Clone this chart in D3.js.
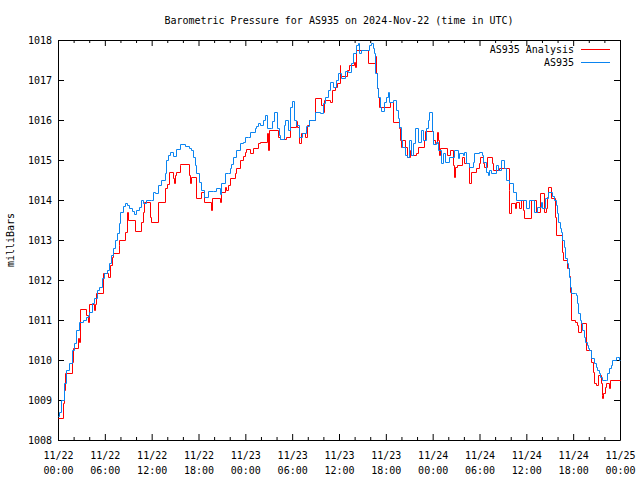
<!DOCTYPE html>
<html>
<head>
<meta charset="utf-8">
<script src="https://cdn.jsdelivr.net/npm/d3@7"></script>
<style>
  html, body { margin: 0; padding: 0; background: #fff; }
  svg { display: block; }
  text { font-family: "DejaVu Sans Mono", monospace; font-size: 10px; fill: #000; }
</style>
</head>
<body>
<svg id="chart" width="640" height="480"></svg>
<script>
// ---- Data (hours after 2024-11-22 00:00 UTC, millibars) ----
const titleText = "Barometric Pressure for AS935 on 2024-Nov-22 (time in UTC)";
const yLabel = "milliBars";
const seriesNames = ["AS935 Analysis", "AS935"];
const yTicks = [1008, 1009, 1010, 1011, 1012, 1013, 1014, 1015, 1016, 1017, 1018];
const xMajorHours = [0, 6, 12, 18, 24, 30, 36, 42, 48, 54, 60, 66, 72];
const xMinorHours = [2, 4, 8, 10, 14, 16, 20, 22, 26, 28, 32, 34, 38, 40, 44, 46, 50, 52, 56, 58, 62, 64, 68, 70];

const analysisSeries = [
  [0,1008.54],[0.68,1008.92],[0.81,1009.25],[0.94,1009.67],[1.75,1009.96],[1.88,1010.29],
  [2.52,1010.54],[2.65,1010.46],[2.86,1011.27],[3.58,1011.12],[3.85,1010.96],[3.92,1011.12],
  [4.00,1011.4],[4.64,1011.25],[4.77,1011.4],[4.86,1011.67],[5.79,1012.17],[6.36,1012.08],
  [6.69,1012.37],[6.91,1012.58],[7.07,1012.68],[7.76,1012.87],[7.84,1013.0],[8.61,1013.2],
  [8.82,1013.7],[8.91,1013.5],[9.89,1013.22],[10.62,1013.45],[10.83,1013.71],[11.04,1013.95],
  [11.77,1013.58],[11.93,1013.46],[12.75,1013.96],[13.68,1014.3],[13.98,1014.4],[14.24,1014.71],
  [14.75,1014.55],[14.88,1014.42],[14.96,1014.62],[15.18,1014.71],[15.60,1014.87],[15.69,1014.9],
  [16.79,1014.63],[16.97,1014.42],[17.10,1014.58],[17.65,1014.04],[18.38,1014.21],[18.71,1013.96],
  [19.66,1013.75],[19.78,1014.06],[20.72,1013.96],[20.94,1014.2],[21.36,1014.33],[21.57,1014.25],
  [21.78,1014.37],[22.09,1014.54],[22.64,1014.67],[22.76,1014.8],[23.28,1015.0],[23.70,1015.1],
  [23.92,1015.2],[24.13,1015.27],[24.56,1015.17],[24.98,1015.3],[25.62,1015.42],[25.83,1015.46],
  [26.77,1015.67],[26.90,1015.25],[27.02,1015.75],[28.18,1015.58],[28.39,1015.52],[29.25,1015.58],
  [29.76,1015.82],[30.44,1015.97],[30.61,1015.82],[30.86,1015.42],[31.17,1015.68],[31.59,1015.58],
  [31.93,1015.87],[32.10,1016.0],[32.87,1016.54],[33.64,1016.37],[33.93,1016.21],[34.06,1016.5],
  [34.91,1016.46],[35.13,1016.75],[35.43,1016.83],[35.72,1016.92],[36.07,1017.37],[36.19,1017.1],
  [37.00,1017.25],[37.34,1017.37],[37.89,1017.46],[38.07,1017.33],[38.20,1017.75],[39.68,1017.42],
  [40.63,1017.6],[40.76,1017.17],[40.84,1016.8],[40.97,1016.58],[41.09,1016.33],[42.55,1016.45],
  [42.88,1015.96],[43.65,1015.8],[43.83,1015.5],[43.96,1015.33],[44.08,1015.5],[44.51,1015.33],
  [44.68,1015.08],[45.11,1015.25],[45.24,1015.12],[45.87,1015.17],[46.08,1015.33],[46.94,1015.5],
  [47.06,1015.73],[48.09,1015.5],[48.34,1015.42],[48.51,1015.7],[48.64,1015.5],[48.77,1015.12],
  [48.94,1015.29],[49.79,1015.12],[50.22,1015.25],[50.65,1014.87],[50.77,1014.58],[50.90,1014.83],
  [51.07,1014.87],[51.76,1015.08],[52.05,1014.92],[52.69,1014.42],[52.91,1014.71],[53.55,1014.79],
  [53.88,1014.92],[54.06,1015.08],[54.39,1014.92],[54.61,1014.83],[54.96,1015.08],[55.60,1014.92],
  [55.67,1014.75],[56.53,1014.79],[57.72,1014.25],[57.81,1013.67],[58.02,1013.92],[58.57,1013.79],
  [58.67,1013.96],[59.09,1013.79],[59.30,1014.0],[59.51,1013.75],[59.64,1013.54],[60.58,1014.0],
  [61.22,1013.71],[61.73,1014.17],[62.28,1013.71],[62.50,1013.79],[62.67,1014.08],[62.79,1014.33],
  [63.22,1014.04],[63.69,1013.58],[63.78,1013.12],[64.55,1012.71],[64.71,1012.5],[65.19,1012.29],
  [65.48,1012.1],[65.57,1011.71],[65.70,1011.0],[66.25,1010.96],[66.54,1010.87],[66.67,1010.71],
  [66.98,1010.92],[67.62,1010.25],[68.26,1009.96],[68.59,1009.71],[68.68,1009.42],[68.90,1009.37],
  [69.23,1009.63],[69.53,1009.42],[69.66,1009.12],[69.74,1009.04],[69.87,1009.17],[70.04,1009.33],
  [70.17,1009.42],[70.60,1009.3],[70.72,1009.5],[72,1009.5]
];

const stationSeries = [
  [0,1008.6],[0.09,1008.71],[0.38,1009.0],[0.81,1009.42],[1.02,1009.75],[1.45,1009.92],
  [1.75,1010.25],[2.08,1010.42],[2.30,1010.75],[2.65,1010.95],[3.16,1011.0],[3.58,1011.08],
  [3.88,1011.1],[4.00,1011.2],[4.35,1011.42],[4.64,1011.55],[4.95,1011.75],[5.28,1011.83],
  [5.63,1012.04],[5.92,1012.17],[6.23,1012.25],[6.48,1012.42],[6.78,1012.62],[7.07,1012.8],
  [7.33,1013.0],[7.55,1013.17],[7.76,1013.42],[7.97,1013.71],[8.27,1013.85],[8.57,1013.92],
  [8.82,1013.87],[9.12,1013.79],[9.46,1013.73],[9.68,1013.65],[9.98,1013.75],[10.32,1013.83],
  [10.62,1014.0],[10.91,1013.93],[11.25,1014.0],[11.89,1014.0],[12.11,1014.21],[12.41,1014.17],
  [12.75,1014.37],[13.17,1014.5],[13.68,1014.67],[13.90,1015.0],[14.11,1015.12],[14.32,1015.21],
  [14.75,1015.1],[15.18,1015.27],[15.69,1015.4],[16.24,1015.35],[16.79,1015.3],[17.10,1015.25],
  [17.30,1015.08],[17.52,1014.87],[17.65,1014.67],[18.07,1014.46],[18.38,1014.25],[18.71,1014.08],
  [19.22,1014.22],[19.86,1014.23],[20.21,1014.3],[20.72,1014.15],[20.94,1014.42],[21.36,1014.67],
  [21.78,1014.67],[22.00,1014.79],[22.21,1014.9],[22.42,1015.08],[22.85,1015.25],[23.28,1015.42],
  [23.70,1015.46],[23.92,1015.57],[24.34,1015.58],[24.56,1015.71],[25.19,1015.8],[25.41,1015.85],
  [25.62,1015.92],[25.83,1015.87],[26.26,1016.0],[26.47,1016.12],[26.77,1015.8],[27.24,1015.79],
  [27.46,1015.98],[27.62,1016.21],[28.05,1015.8],[28.30,1015.62],[28.48,1015.52],[28.90,1015.87],
  [29.07,1016.0],[29.45,1015.75],[29.76,1016.33],[29.93,1016.48],[30.22,1016.0],[30.53,1015.87],
  [30.86,1015.58],[31.24,1015.67],[31.72,1015.85],[32.14,1016.0],[32.87,1016.21],[33.51,1016.17],
  [33.93,1016.42],[34.15,1016.57],[34.57,1016.75],[34.79,1016.96],[35.21,1016.83],[35.64,1017.0],
  [35.85,1017.17],[36.28,1017.04],[36.71,1017.23],[37.13,1017.21],[37.56,1017.42],[37.77,1017.67],
  [38.20,1017.87],[38.41,1017.92],[38.53,1017.67],[38.84,1017.75],[39.48,1017.75],[39.90,1017.87],
  [40.12,1017.92],[40.33,1017.8],[40.54,1017.67],[40.67,1017.17],[40.84,1016.8],[40.97,1016.58],
  [41.27,1016.33],[41.40,1016.23],[41.82,1016.45],[42.04,1016.58],[42.25,1016.71],[42.37,1016.46],
  [42.88,1016.5],[43.32,1016.25],[43.53,1016.04],[43.65,1015.83],[43.96,1015.5],[44.08,1015.33],
  [44.51,1015.12],[44.68,1015.08],[44.93,1015.5],[45.24,1015.12],[45.44,1015.42],[45.75,1015.8],
  [46.17,1015.46],[46.51,1015.75],[46.72,1015.5],[47.15,1015.8],[47.36,1016.0],[47.58,1016.21],
  [47.87,1015.73],[48.00,1015.4],[48.43,1015.46],[48.64,1015.25],[49.07,1014.92],[49.28,1015.17],
  [49.62,1014.96],[50.04,1015.08],[50.77,1015.25],[51.20,1015.04],[51.41,1015.17],[51.84,1015.13],
  [52.05,1015.21],[52.27,1014.92],[52.69,1014.83],[53.11,1014.96],[53.33,1015.17],[53.97,1015.21],
  [54.32,1015.13],[54.48,1014.96],[54.83,1014.71],[55.03,1014.62],[55.25,1014.75],[55.47,1014.67],
  [56.10,1014.87],[56.31,1014.75],[56.75,1015.0],[57.17,1014.79],[57.38,1014.5],[57.81,1014.42],
  [58.23,1014.21],[58.67,1014.0],[59.51,1014.0],[59.94,1013.79],[60.37,1014.0],[61.00,1013.71],
  [61.43,1013.83],[61.86,1013.95],[62.07,1013.8],[62.33,1014.04],[62.83,1014.21],[63.34,1014.1],
  [63.56,1014.0],[63.78,1013.87],[63.91,1013.67],[64.07,1013.46],[64.29,1013.29],[64.46,1013.2],
  [64.62,1013.0],[64.84,1012.83],[64.97,1012.54],[65.19,1012.42],[65.39,1012.29],[65.48,1012.08],
  [65.57,1011.83],[65.70,1011.68],[66.25,1011.68],[66.34,1011.63],[66.46,1011.42],[66.63,1011.17],
  [66.85,1011.0],[67.06,1010.92],[67.19,1010.75],[67.40,1010.58],[67.53,1010.46],[67.74,1010.37],
  [67.91,1010.29],[68.04,1010.25],[68.26,1010.04],[68.68,1009.92],[68.90,1009.83],[69.10,1009.75],
  [69.32,1009.67],[69.45,1009.58],[69.66,1009.5],[70.17,1009.5],[70.38,1009.67],[70.60,1009.79],
  [70.81,1009.87],[71.02,1010.0],[71.45,1010.08],[71.66,1010.08],[71.87,1010.0],[72,1010.0]
];

// ---- Rendering ----
(function () {
  const seriesColors = ["#ff0000", "#0a84f0"];
  const start = Date.UTC(2024, 10, 22, 0, 0);
  const toDate = h => new Date(start + h * 3600e3);

  const pL = 58, pR = 620, pT = 40, pB = 440;
  const svg = d3.select("#chart");

  const x = d3.scaleUtc().domain([toDate(0), toDate(72)]).range([pL, pR]);
  const y = d3.scaleLinear().domain([1008, 1018]).range([pB, pT]);

  const fmtDay = d3.utcFormat("%m/%d");
  const fmtTime = d3.utcFormat("%H:%M");

  // Bottom axis (major with two-line labels)
  const gBottom = svg.append("g").attr("transform", `translate(0,${pB})`)
    .call(d3.axisBottom(x).tickValues(xMajorHours.map(toDate)).tickSizeInner(-6).tickSizeOuter(0).tickPadding(12));
  gBottom.selectAll(".tick text").each(function (d) {
    const t = d3.select(this);
    t.text(null).attr("dy", null);
    t.append("tspan").attr("x", 0).attr("dy", "0.71em").text(fmtDay(d));
    t.append("tspan").attr("x", 0).attr("dy", "1.5em").text(fmtTime(d));
  });
  svg.append("g").attr("transform", `translate(0,${pB})`)
    .call(d3.axisBottom(x).tickValues(xMinorHours.map(toDate)).tickSize(-3).tickFormat(""))
    .select(".domain").remove();

  // Top axis (mirror)
  svg.append("g").attr("transform", `translate(0,${pT})`)
    .call(d3.axisTop(x).tickValues(xMajorHours.map(toDate)).tickSizeInner(-6).tickSizeOuter(0).tickFormat(""));
  svg.append("g").attr("transform", `translate(0,${pT})`)
    .call(d3.axisTop(x).tickValues(xMinorHours.map(toDate)).tickSize(-3).tickFormat(""))
    .select(".domain").remove();

  // Left axis
  svg.append("g").attr("transform", `translate(${pL},0)`)
    .call(d3.axisLeft(y).tickValues(yTicks).tickSizeInner(-6).tickSizeOuter(0).tickPadding(6).tickFormat(d3.format("d")));
  // Right axis (mirror)
  svg.append("g").attr("transform", `translate(${pR},0)`)
    .call(d3.axisRight(y).tickValues(yTicks).tickSizeInner(-6).tickSizeOuter(0).tickFormat(""));

  svg.selectAll(".tick line, .domain").attr("stroke", "#000").attr("stroke-width", 1);
  svg.selectAll(".tick text").attr("font-family", "DejaVu Sans Mono, monospace").attr("font-size", 10).attr("fill", "#000");

  // Lines (snapped to pixel centres for crisp 1px strokes)
  const line = d3.line()
    .x(d => Math.round(x(toDate(d[0]))) + 0.5)
    .y(d => Math.round(y(d[1])) + 0.5)
    .curve(d3.curveStepAfter);

  [analysisSeries, stationSeries].forEach((s, i) => {
    svg.append("path")
      .datum(s)
      .attr("fill", "none")
      .attr("stroke", seriesColors[i])
      .attr("stroke-width", 1)
      .attr("d", line);
  });

  // Title
  svg.append("text")
    .attr("x", (pL + pR) / 2).attr("y", 24)
    .attr("text-anchor", "middle")
    .text(titleText);

  // Y label
  svg.append("text")
    .attr("transform", `translate(14,${(pT + pB) / 2}) rotate(-90)`)
    .attr("text-anchor", "middle")
    .text(yLabel);

  // Legend
  seriesNames.forEach((name, i) => {
    const ly = 49.5 + i * 13;
    svg.append("text")
      .attr("x", 574).attr("y", ly + 3.5)
      .attr("text-anchor", "end")
      .text(name);
    svg.append("line")
      .attr("x1", 581).attr("x2", 610)
      .attr("y1", ly).attr("y2", ly)
      .attr("stroke", seriesColors[i])
      .attr("stroke-width", 1);
  });
})();
</script>
</body>
</html>
